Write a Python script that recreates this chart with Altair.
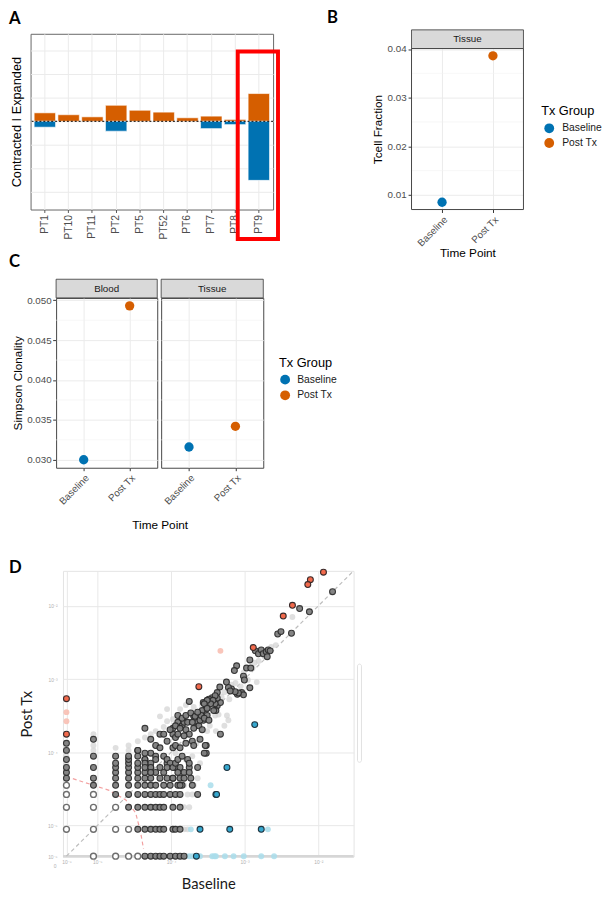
import altair as alt
import pandas as pd

FONT = "Liberation Sans"
LETTER_FONT = "Lato"
ORANGE = "#D55E00"
BLUE = "#0072B2"

# ---------------- Panel A : expanded / contracted clones ----------------
A_PATIENTS = ["PT1", "PT10", "PT11", "PT2", "PT5", "PT52", "PT6", "PT7", "PT8", "PT9"]
A_EXPANDED = [0.36, 0.28, 0.19, 0.68, 0.47, 0.39, 0.15, 0.22, 0.08, 1.18]
A_CONTRACTED = [-0.25, 0.0, 0.0, -0.42, 0.0, 0.0, 0.0, -0.31, -0.14, -2.51]
A_GRID = [-3, -2, -1, 0, 1, 2, 3]
A_HIGHLIGHT = ["PT9"]

# ---------------- Panel B ----------------
TIME_POINTS = ["Baseline", "Post Tx"]
B_TCELL_FRACTION = [0.0085, 0.0386]
B_TICKS = [0.01, 0.02, 0.03, 0.04]
B_MINOR = [0.015, 0.025, 0.035]

# ---------------- Panel C ----------------
C_BLOOD = [0.0300, 0.0493]
C_TISSUE = [0.0316, 0.0342]
C_TICKS = [0.030, 0.035, 0.040, 0.045, 0.050]
C_MINOR = [0.0325, 0.0375, 0.0425, 0.0475]

# ---------------- Panel D : clone counts (baseline, post tx) ----------------
N_TOTAL = 113000
ZERO_POS = -5.42
D_TICKS = [ZERO_POS, -5, -4, -3, -2]
D_DIAG = [ZERO_POS, -1.52]
THR_X = [-5.333, -4.84, -4.613, -4.48, -4.413, -4.373]
THR_Y = [-4.36, -4.52, -4.653, -4.827, -5.093, -5.32]

D_RED = [(1330, 3273), (883, 2588), (815, 2218), (504, 1153), (378, 822), (148, 305),
         (27, 89), (0, 61), (0, 20)]
D_PINK = [(53, 275), (0, 40), (0, 30)]
D_BLUE = [(155, 27), (65, 7), (46, 3), (47, 3), (28, 1), (71, 1), (190, 1), (25, 0)]
D_LIGHTBLUE = [(39, 4), (234, 1), (21, 1), (20, 0), (22, 0), (28, 0), (41, 0), (44, 0), (46, 0),
               (61, 0), (80, 0), (110, 0), (190, 0), (284, 0)]
D_OPEN = [(0, 1), (0, 2), (0, 3), (0, 4), (1, 0), (1, 1), (1, 2), (1, 3), (2, 0), (2, 1),
          (2, 2), (3, 0), (3, 1), (4, 0)]
D_GRAY_UPPER = [(1766, 1770), (631, 1040), (857, 940), (489, 479), (318, 468), (352, 504),
                (158, 275), (174, 251), (190, 283), (202, 251), (222, 267), (236, 283), (251, 275),
                (229, 229), (133, 207), (120, 160), (137, 160), (88, 172), (82, 148), (109, 124),
                (112, 110), (133, 86), (109, 69), (93, 73), (84, 76), (72, 78), (64, 103), (52, 88),
                (48, 74), (45, 67), (45, 52), (42, 58), (39, 52), (35, 58), (32, 52), (35, 45),
                (29, 36), (32, 33), (37, 31), (26, 40), (53, 20), (33, 14), (32, 11), (28, 17)]
D_GRAY_MID = [(5, 24), (20, 56), (14, 36), (14, 29), (12, 24), (12, 20), (16, 26), (17, 29),
              (18, 23), (23, 35), (26, 29), (29, 37), (31, 31), (27, 26), (34, 44), (43, 57),
              (48, 49), (46, 42), (53, 54), (41, 63), (35, 57), (30, 23), (34, 14), (34, 11),
              (6, 17), (7, 14), (8, 20), (9, 20), (10, 16), (8, 13), (12, 13), (13, 14), (15, 13),
              (6, 11), (7, 10), (9, 10), (10, 8), (13, 7), (15, 7), (17, 6), (21, 5), (20, 7),
              (26, 7), (20, 6), (22, 4), (13, 26), (11, 23), (13, 18), (14, 20), (15, 24),
              (16, 33), (18, 36), (21, 39), (19, 29), (22, 29), (24, 35), (23, 24), (20, 20),
              (22, 16), (18, 15), (17, 19), (23, 14), (31, 54), (37, 60), (41, 55), (48, 62),
              (35, 47), (30, 42), (43, 42), (35, 36), (28, 31), (75, 83), (90, 70), (103, 74),
              (68, 87), (19, 9), (20, 8), (16, 4), (15, 4), (14, 6), (15, 5), (17, 5), (12, 5),
              (10, 9), (11, 8), (10, 7), (12, 7), (13, 8), (14, 9), (16, 10), (4, 12), (5, 11),
              (5, 9), (5, 8), (5, 7), (6, 7), (6, 6), (7, 9)]
# low-count grid: post-tx count -> baseline counts
D_GRAY_ROWS = {0: [5, 6, 7, 8, 9, 11, 13, 15, 17],
               1: [4, 5, 6, 7, 8, 9, 12, 13, 15],
               2: [3, 4, 5, 6, 7, 8, 9, 12, 15],
               3: [2, 3, 4, 5, 6, 7, 8, 9, 11, 13, 15, 26],
               4: [1, 2, 3, 4, 5, 6, 7, 9, 11, 14],
               5: [0, 1, 2, 3, 4, 5, 6, 8, 10, 12],
               6: [0, 2, 3, 4, 5, 7, 9],
               7: [0, 1, 2, 3, 4, 6, 8],
               8: [2, 3, 4, 6],
               9: [0, 3, 5],
               10: [1, 2, 3, 4],
               12: [0, 4],
               15: [0],
               17: [1]}
D_FAINT = [(18, 0), (16, 0), (17, 1), (19, 1), (17, 2), (20, 2), (19, 3), (22, 3), (17, 4), (23, 4),
           (16, 5), (26, 5), (0, 8), (0, 10), (0, 14), (1, 12), (1, 14), (1, 20), (2, 13), (3, 14),
           (3, 12), (4, 16), (5, 18), (6, 20), (7, 22), (9, 25), (10, 30), (12, 32), (8, 35),
           (10, 44), (15, 44), (18, 50), (23, 47), (26, 40), (30, 50), (40, 45), (45, 36), (50, 37),
           (55, 65), (60, 75), (70, 60), (75, 95), (85, 100), (100, 90), (110, 140), (125, 110),
           (145, 160), (165, 103), (175, 200), (210, 230), (260, 310), (300, 330), (503, 797),
           (38, 26), (46, 22), (60, 26), (25, 15), (22, 10), (13, 11), (18, 9), (28, 8), (65, 36),
           (68, 31), (35, 22), (154, 189)]


# ---------------- helpers ----------------
def letter(ch, x, y):
    return alt.Chart(pd.DataFrame({"t": [ch]})).mark_text(
        font=LETTER_FONT, fontSize=17, fontWeight="bold", color="#000000",
        align="left", baseline="top").encode(text="t:N", x=alt.value(x), y=alt.value(y))


def frame_box(x1, y1, x2, y2):
    # invisible box that fixes the extent of a figure region for the layout
    return alt.Chart(pd.DataFrame({"t": [0]})).mark_rect(
        fillOpacity=0, strokeOpacity=0).encode(
        x=alt.value(x1), x2=alt.value(x2), y=alt.value(y1), y2=alt.value(y2))


def spacer(w, h):
    return alt.Chart(pd.DataFrame({"t": [0]})).mark_point(opacity=0).encode(
        x=alt.value(0), y=alt.value(0)).properties(width=w, height=h)


def strip(label, w, top, bottom):
    df = pd.DataFrame({"t": [label]})
    box = alt.Chart(df).mark_rect(fill="#D9D9D9", stroke="#333333", strokeWidth=0.8).encode(
        x=alt.value(0), x2=alt.value(w), y=alt.value(top), y2=alt.value(bottom))
    txt = alt.Chart(df).mark_text(font=FONT, fontSize=10, color="#1A1A1A").encode(
        text="t:N", x=alt.value(w / 2), y=alt.value((top + bottom) / 2))
    return box, txt


PANEL_VIEW = alt.ViewBackground(stroke="#444444", strokeWidth=1)

# ---------------- Panel A ----------------
dfA = pd.DataFrame({"pt": A_PATIENTS, "exp": A_EXPANDED, "con": A_CONTRACTED})
dfA["base"] = 0.0
dfA_con = dfA[dfA["con"] < 0]

xA = alt.X("pt:N", scale=alt.Scale(domain=A_PATIENTS, paddingInner=0.1, paddingOuter=0.15),
           axis=alt.Axis(title=None, labelAngle=-90, labelFontSize=10.5, labelColor="#4D4D4D",
                         labelPadding=2, tickSize=3, tickColor="#555555", domain=False, grid=True,
                         gridColor="#EBEBEB", bandPosition=0.5))
yA_scale = alt.Scale(domain=[-3.75, 3.72], nice=False, zero=False)
yA_axis = alt.Axis(title="Contracted I Expanded", values=A_GRID, labels=False, ticks=False,
                   domain=False, grid=True, gridColor="#EBEBEB", titleFontSize=13,
                   titleColor="#000000", titlePadding=7)

barsE = alt.Chart(dfA).mark_bar(color=ORANGE, stroke="white", strokeWidth=0.6).encode(
    x=xA, y=alt.Y("exp:Q", scale=yA_scale, axis=yA_axis), y2=alt.Y2("base"))
barsC = alt.Chart(dfA_con).mark_bar(color=BLUE, stroke="white", strokeWidth=0.6).encode(
    x=xA, y=alt.Y("con:Q", scale=yA_scale, axis=yA_axis), y2=alt.Y2("base"))
zero_rule = alt.Chart(pd.DataFrame({"z": [0.0]})).mark_rule(
    color="#000000", strokeDash=[2, 2], strokeWidth=1).encode(
    y=alt.Y("z:Q", scale=yA_scale, axis=yA_axis))
red_box = alt.Chart(pd.DataFrame({"pt": A_HIGHLIGHT})).mark_rect(
    fillOpacity=0, stroke="#FF0000", strokeWidth=4).encode(
    x=alt.value(211), x2=alt.value(252), y=alt.value(18), y2=alt.value(209))

# plot origin at page (30, 32); first figure band spans page y 8..278
# (panel letter "C" sits in this band, left of the B panel's axis title)
panelA = alt.layer(frame_box(-22, -24, 270, 246), barsE, barsC, zero_rule, red_box,
                   letter("A", -22, -23), letter("C", -22, 225)).properties(
    width=247, height=179, view=alt.ViewBackground(stroke="#666666", strokeWidth=1))

# ---------------- shared for B / C ----------------
color_scale = alt.Scale(domain=TIME_POINTS, range=[BLUE, ORANGE])


def x_time(title=None, title_x=None, title_pad=0):
    kw = dict(title=title, labelAngle=-45, labelFontSize=10, labelColor="#4D4D4D", labelPadding=2,
              tickSize=3, tickColor="#333333", domain=False, grid=True, gridColor="#EBEBEB",
              titleFontSize=12, titleColor="#000000", titlePadding=title_pad)
    if title_x is not None:
        kw["titleX"] = title_x
    return alt.X("tp:N", scale=alt.Scale(type="point", padding=0.6, domain=TIME_POINTS),
                 axis=alt.Axis(**kw))


def tx_legend(lx, ly, sym_off, lab_off, row_pad):
    return alt.Legend(title="Tx Group", orient="none", legendX=lx, legendY=ly, titleFontSize=13,
                      titleColor="#000000", titlePadding=5, labelFontSize=10.5,
                      labelColor="#1A1A1A", labelOffset=lab_off, symbolType="circle",
                      symbolSize=100, symbolOffset=sym_off, symbolStrokeWidth=0,
                      rowPadding=row_pad, padding=0)


# ---------------- Panel B (plot area 32..211, panel frame from 47) ----------------
dfB = pd.DataFrame({"tp": TIME_POINTS, "v": B_TCELL_FRACTION})
yB_scale = alt.Scale(domain=[0.0070, 0.04313], nice=False, zero=False)
yB_axis = alt.Axis(title="Tcell Fraction", values=B_TICKS, format=".2f", labelFontSize=10,
                   labelColor="#4D4D4D", tickSize=3.5, tickColor="#333333", labelPadding=2,
                   domain=False, grid=True, gridColor="#EBEBEB", titleFontSize=12,
                   titleColor="#000000", titlePadding=3, titleY=97)
minorB = alt.Chart(pd.DataFrame({"m": B_MINOR})).mark_rule(color="#F2F2F2", strokeWidth=0.6).encode(
    y=alt.Y("m:Q", scale=yB_scale, axis=yB_axis))
ptsB = alt.Chart(dfB).mark_circle(size=90, opacity=1).encode(
    x=x_time("Time Point"), y=alt.Y("v:Q", scale=yB_scale, axis=yB_axis),
    color=alt.Color("tp:N", scale=color_scale, legend=tx_legend(132, 73, 3, 8, 4)))
frameB = alt.Chart(pd.DataFrame({"t": [0]})).mark_rect(
    fillOpacity=0, stroke="#444444", strokeWidth=1).encode(
    x=alt.value(0), x2=alt.value(114), y=alt.value(15), y2=alt.value(179))
boxB, txtB = strip("Tissue", 114, -4, 15)
panelB = alt.layer(minorB, ptsB, frameB, boxB, txtB, letter("B", -86, -24)).properties(
    width=114, height=179)

# ---------------- Panel C ----------------
yC_scale = alt.Scale(domain=[0.0290, 0.0503], nice=False, zero=False)
yC_axis = alt.Axis(title="Simpson Clonality", values=C_TICKS, format=".3f", labelFontSize=10,
                   labelColor="#4D4D4D", tickSize=3.5, tickColor="#333333", labelPadding=1.5,
                   domain=False, grid=True, gridColor="#EBEBEB", titleFontSize=12,
                   titleColor="#000000", titlePadding=2)
yC_axis_plain = alt.Axis(title=None, values=C_TICKS, labels=False, ticks=False, domain=False,
                         grid=True, gridColor="#EBEBEB")


def panel_c(values, label, w, y_axis, x_axis_title, title_x, legend, extra):
    df = pd.DataFrame({"tp": TIME_POINTS, "v": values})
    minor = alt.Chart(pd.DataFrame({"m": C_MINOR})).mark_rule(
        color="#F2F2F2", strokeWidth=0.6).encode(y=alt.Y("m:Q", scale=yC_scale, axis=y_axis))
    pts = alt.Chart(df).mark_circle(size=90, opacity=1).encode(
        x=x_time(x_axis_title, title_x, 14), y=alt.Y("v:Q", scale=yC_scale, axis=y_axis),
        color=alt.Color("tp:N", scale=color_scale, legend=legend))
    box, txt = strip(label, w, -19, 0)
    return alt.layer(*extra, minor, pts, box, txt).properties(width=w, height=173, view=PANEL_VIEW)


# blood plot origin at page (56, 296); second figure band spans page y 275..545
panelC_blood = panel_c(C_BLOOD, "Blood", 103, yC_axis, None, None, None,
                       [frame_box(-48, -21, 244, 249)])
panelC_tissue = panel_c(C_TISSUE, "Tissue", 104, yC_axis_plain, "Time Point", -1.5,
                        tx_legend(120, 60, 1, 7, 5), [])

# ---------------- Panel D ----------------
d_label = ("datum.value < -5.2 ? '10⁻⁶' : datum.value < -4.5 ? '10⁻⁵' : "
           "datum.value < -3.5 ? '10⁻⁴' : datum.value < -2.5 ? '10⁻³' : '10⁻²'")
xD_scale = alt.Scale(domain=[-5.467, -1.52], nice=False, zero=False)
yD_scale = alt.Scale(domain=[-5.425, -1.52], nice=False, zero=False)
xD_axis = alt.Axis(title="Baseline", values=D_TICKS, labelExpr=d_label, labelFontSize=5,
                   labelColor="#B0B0B0", labelPadding=3, labelFlush=False, ticks=False,
                   domain=False, grid=True, gridColor="#E8E8E8", titleFont=LETTER_FONT,
                   titleFontSize=15, titleColor="#1A1A1A", titlePadding=13)
yD_axis = alt.Axis(title="Post Tx", values=D_TICKS, labelExpr=d_label, labelFontSize=5,
                   labelColor="#B0B0B0", labelPadding=6, labelFlush=False, ticks=False,
                   domain=False, grid=True, gridColor="#E8E8E8", titleFont=LETTER_FONT,
                   titleFontSize=15, titleColor="#1A1A1A", titlePadding=13)


def dx(field):
    return alt.X(field, type="quantitative", scale=xD_scale, axis=xD_axis)


def dy(field):
    return alt.Y(field, type="quantitative", scale=yD_scale, axis=yD_axis)


def d_points(pairs, **mk):
    df = pd.DataFrame(pairs, columns=["b", "p"])
    return alt.Chart(df).transform_calculate(
        xb=f"datum.b > 0 ? log(datum.b / {N_TOTAL}) / LN10 : {ZERO_POS}",
        yp=f"datum.p > 0 ? log(datum.p / {N_TOTAL}) / LN10 : {ZERO_POS}",
    ).mark_circle(size=36, **mk).encode(x=dx("xb"), y=dy("yp"))


gray_grid = [(b, p) for p, bs in D_GRAY_ROWS.items() for b in bs]
gray_all = gray_grid + D_GRAY_MID + D_GRAY_UPPER

bottom_line = alt.Chart(pd.DataFrame({"z": [ZERO_POS]})).mark_rule(
    color="#D6D6D6", strokeWidth=2.5).encode(y=dy("z"))
diag = alt.Chart(pd.DataFrame({"x1": [D_DIAG[0]], "y1": [D_DIAG[0]],
                               "x2": [D_DIAG[1]], "y2": [D_DIAG[1]]})).mark_rule(
    color="#BDBDBD", strokeDash=[4, 3], strokeWidth=1.2).encode(
    x=dx("x1"), y=dy("y1"), x2="x2", y2="y2")
thr = alt.Chart(pd.DataFrame({"tx": THR_X, "ty": THR_Y, "i": list(range(len(THR_X)))})).mark_line(
    color="#F2A0A0", strokeDash=[4, 3], strokeWidth=1.2).encode(
    x=dx("tx"), y=dy("ty"), order="i:Q")

faint = d_points(D_FAINT, fill="#D2D2D2", opacity=0.7, strokeWidth=0)
lightblue = d_points(D_LIGHTBLUE, fill="#A9DDEB", opacity=0.85, strokeWidth=0)
pink = d_points(D_PINK, fill="#F8BFB2", opacity=0.9, strokeWidth=0)
openc = d_points(D_OPEN, fill="#FFFFFF", stroke="#6E6E6E", strokeWidth=1.4, opacity=1)
gray = d_points(gray_all, fill="#7F7F7F", stroke="#2E2E2E", strokeWidth=1.1, opacity=0.95)
blue = d_points(D_BLUE, fill="#36A8CF", stroke="#1E3440", strokeWidth=1.1, opacity=1)
red = d_points(D_RED, fill="#F26A4C", stroke="#3A2A2A", strokeWidth=1.1, opacity=1)

scroll = alt.Chart(pd.DataFrame({"t": [0]})).mark_rect(
    fill="#FFFFFF", stroke="#E0E0E0", strokeWidth=1, cornerRadius=2).encode(
    x=alt.value(300), x2=alt.value(304), y=alt.value(95), y2=alt.value(195))
zero_lbl = alt.Chart(pd.DataFrame({"t": ["0"]})).mark_text(
    font=FONT, fontSize=5, color="#B0B0B0").encode(text="t:N", x=alt.value(-8), y=alt.value(301))

# plot origin at page (63, 572); third figure band starts at page y 545
panelD = alt.layer(frame_box(-55, -27, 527, 300), bottom_line, diag, thr, faint, lightblue, pink,
                   openc, gray, blue, red, scroll, zero_lbl, letter("D", -55, -11)).properties(
    width=296, height=291, view=alt.ViewBackground(stroke="#E3E3E3", strokeWidth=1))

# ---------------- layout: every row's origin at page x = 30 ----------------
row1 = alt.hconcat(panelA, panelB, spacing=141, bounds="flush").resolve_scale(
    color="independent")
row2 = alt.hconcat(spacer(22, 173), panelC_blood, panelC_tissue, spacing=4,
                   bounds="flush").resolve_scale(color="independent")
row3 = alt.hconcat(spacer(29, 291), panelD, spacing=4, bounds="flush")

chart = alt.vconcat(row1, row2, row3, spacing=0).resolve_scale(
    color="independent").properties(
    padding={"top": -7, "left": 0, "right": 0, "bottom": 0}).configure(
    font=FONT).configure_view(strokeWidth=0).configure_axis(
    titleFontWeight="normal", labelFont=FONT, titleFont=FONT).configure_legend(
    titleFontWeight="normal")

chart.save("out.html", embed_options={"renderer": "svg", "actions": False})
